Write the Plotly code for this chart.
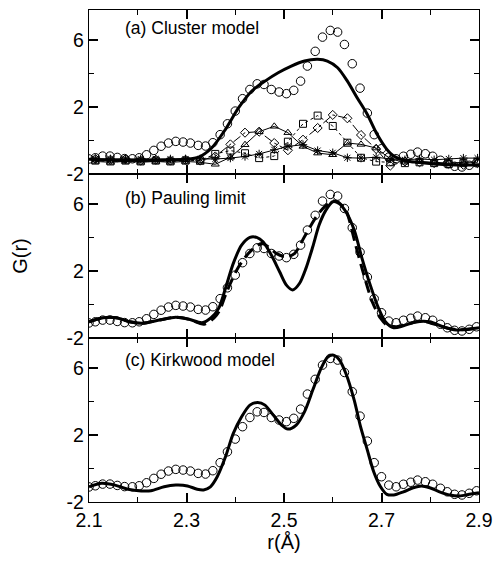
import plotly.graph_objects as go
from plotly.subplots import make_subplots

# Experimental G(r) (open circles), same in all panels
r_exp = [2.100, 2.113, 2.128, 2.143, 2.158, 2.173, 2.189, 2.203, 2.218, 2.233,
         2.248, 2.263, 2.278, 2.293, 2.308, 2.324, 2.339, 2.354, 2.369, 2.384,
         2.400, 2.415, 2.430, 2.445, 2.459, 2.474, 2.490, 2.505, 2.520, 2.534,
         2.548, 2.564, 2.579, 2.595, 2.610, 2.624, 2.640, 2.656, 2.671, 2.685,
         2.700, 2.715, 2.730, 2.745, 2.760, 2.774, 2.790, 2.805, 2.821, 2.835,
         2.850, 2.865, 2.880, 2.895]
g_exp = [-1.10, -1.03, -0.93, -0.93, -1.01, -1.08, -1.09, -1.03, -0.85, -0.59,
         -0.34, -0.15, -0.05, -0.09, -0.15, -0.29, -0.33, -0.13, 0.35, 1.00,
         1.76, 2.50, 3.05, 3.39, 3.35, 3.05, 2.90, 2.80, 3.00, 3.55,
         4.45, 5.33, 6.18, 6.58, 6.48, 5.74, 4.59, 3.13, 1.64, 0.35,
         -0.49, -0.99, -1.09, -0.94, -0.82, -0.69, -0.79, -0.94, -1.18, -1.39,
         -1.54, -1.58, -1.48, -1.33]

# (a) Cluster model total
r_a = [2.100, 2.177, 2.244, 2.298, 2.325, 2.352, 2.380, 2.407, 2.434, 2.461,
       2.488, 2.515, 2.542, 2.569, 2.589, 2.610, 2.630, 2.650, 2.671, 2.691,
       2.711, 2.725, 2.752, 2.786, 2.819, 2.853, 2.900]
g_a = [-1.12, -1.18, -1.18, -1.12, -0.99, -0.43, 0.67, 1.96, 2.96, 3.55,
       4.05, 4.45, 4.75, 4.85, 4.75, 4.35, 3.55, 2.56, 1.56, 0.37,
       -0.53, -0.93, -1.22, -1.33, -1.42, -1.46, -1.46]

# (a) partial contributions
r_p = [2.113, 2.144, 2.175, 2.206, 2.237, 2.267, 2.298, 2.328, 2.359, 2.390,
       2.420, 2.449, 2.480, 2.508, 2.539, 2.569, 2.600, 2.630, 2.658, 2.689,
       2.718, 2.748, 2.778, 2.808, 2.838, 2.868, 2.897]
g_diam = [-1.10, -1.15, -1.10, -1.20, -1.15, -1.20, -1.15, -1.20, -0.95, -0.23,
          0.47, 0.53, -0.15, -0.58, 0.05, 0.75, 1.53, 1.33, 0.33, -0.50,
          -1.50, -1.25, -1.30, -1.35, -1.40, -1.45, -1.35]
g_tri = [-1.25, -1.30, -1.25, -1.30, -1.25, -1.30, -1.25, -1.30, -1.42, -1.00,
         -0.25, 0.53, 0.85, 0.47, -0.35, -0.75, -0.85, -0.15, -0.23, -0.45,
         -1.10, -1.30, -1.25, -1.30, -1.35, -1.30, -1.30]
g_sq = [-1.20, -1.25, -1.20, -1.25, -1.20, -1.25, -1.20, -1.20, -0.80, -0.60,
        -0.76, -1.05, -0.93, -0.07, 1.00, 1.49, 0.87, -0.13, -1.03, -1.26,
        -1.30, -1.35, -1.30, -1.35, -1.40, -1.35, -1.30]
g_ast = [-1.10, -1.10, -1.10, -1.10, -1.10, -1.10, -1.10, -1.10, -1.10, -1.05,
         -0.95, -0.80, -0.55, -0.35, -0.25, -0.60, -0.73, -1.03, -1.05, -1.00,
         -1.10, -1.15, -1.10, -1.15, -1.10, -1.05, -1.05]

# (b) Pauling limit: solid and dashed
r_b = [2.100, 2.129, 2.156, 2.183, 2.210, 2.244, 2.278, 2.305, 2.332, 2.350,
       2.366, 2.380, 2.396, 2.413, 2.430, 2.444, 2.457, 2.474, 2.491, 2.505,
       2.518, 2.532, 2.545, 2.559, 2.572, 2.586, 2.600, 2.613, 2.627, 2.644,
       2.660, 2.677, 2.694, 2.708, 2.725, 2.745, 2.772, 2.799, 2.826, 2.853,
       2.880, 2.900]
g_b = [-1.03, -0.79, -0.79, -1.03, -1.12, -0.93, -0.76, -0.88, -1.09, -0.80,
       -0.23, 0.97, 2.46, 3.55, 4.01, 4.01, 3.75, 2.96, 1.96, 1.16,
       0.87, 1.27, 2.16, 3.45, 4.75, 5.64, 6.14, 6.04, 5.54, 4.45,
       2.76, 1.16, -0.23, -1.03, -1.39, -1.27, -1.03, -1.03, -1.33, -1.52,
       -1.46, -1.39]
r_bd = [2.100, 2.129, 2.156, 2.183, 2.210, 2.244, 2.278, 2.305, 2.336, 2.356,
        2.368, 2.380, 2.393, 2.407, 2.430, 2.454, 2.468, 2.484, 2.505, 2.522,
        2.542, 2.566, 2.583, 2.600, 2.610, 2.627, 2.633, 2.647, 2.664, 2.681,
        2.698, 2.711, 2.731, 2.758, 2.785, 2.812, 2.840, 2.870, 2.900]
g_bd = [-1.03, -0.79, -0.79, -1.03, -1.12, -0.93, -0.76, -0.88, -1.18, -0.82,
        -0.35, 0.57, 1.46, 2.26, 3.15, 3.65, 3.45, 3.06, 2.85, 3.06,
        4.05, 5.24, 5.84, 6.18, 6.14, 5.64, 5.15, 3.55, 1.76, 0.17,
        -0.82, -1.22, -1.33, -1.12, -1.00, -1.20, -1.45, -1.50, -1.39]

# (c) Kirkwood model
r_c = [2.100, 2.126, 2.153, 2.180, 2.207, 2.227, 2.254, 2.278, 2.302, 2.322,
       2.335, 2.349, 2.363, 2.380, 2.396, 2.413, 2.430, 2.446, 2.461, 2.478,
       2.495, 2.508, 2.525, 2.542, 2.559, 2.576, 2.589, 2.600, 2.613, 2.627,
       2.644, 2.657, 2.671, 2.684, 2.698, 2.711, 2.725, 2.745, 2.765, 2.782,
       2.799, 2.819, 2.840, 2.860, 2.880, 2.900]
g_c = [-1.09, -0.88, -0.99, -1.24, -1.34, -1.33, -1.09, -0.99, -1.04, -1.24,
       -1.28, -1.09, -0.49, 0.70, 2.10, 3.09, 3.79, 3.95, 3.79, 3.19,
       2.60, 2.36, 2.60, 3.39, 4.69, 5.98, 6.64, 6.78, 6.52, 5.68,
       4.09, 2.50, 1.10, -0.19, -1.09, -1.54, -1.58, -1.39, -1.15, -1.04,
       -1.15, -1.39, -1.58, -1.64, -1.54, -1.44]

panel_labels = ["(a) Cluster model", "(b) Pauling limit", "(c) Kirkwood model"]
x_ticks = [2.1, 2.3, 2.5, 2.7, 2.9]
y_ticks = [-2, 2, 6]
y_ticktext = ["-2", "2", "6"]

FONT = "Liberation Sans, Arial, Helvetica, sans-serif"

fig = make_subplots(rows=3, cols=1, shared_xaxes=True, vertical_spacing=0)

circ = dict(symbol="circle-open", size=8.5, color="black", line=dict(width=1))
for row in (1, 2, 3):
    fig.add_trace(go.Scatter(x=r_exp, y=g_exp, mode="markers", marker=circ,
                             showlegend=False), row=row, col=1)

# panel (a) partials
fig.add_trace(go.Scatter(x=r_p, y=g_ast, mode="lines+markers",
                         line=dict(color="black", width=1),
                         marker=dict(symbol="asterisk-open", size=7, color="black",
                                     line=dict(width=1)),
                         showlegend=False), row=1, col=1)
fig.add_trace(go.Scatter(x=r_p, y=g_sq, mode="lines+markers",
                         line=dict(color="black", width=1, dash="dot"),
                         marker=dict(symbol="square-open", size=7, color="black",
                                     line=dict(width=1)),
                         showlegend=False), row=1, col=1)
fig.add_trace(go.Scatter(x=r_p, y=g_tri, mode="lines+markers",
                         line=dict(color="black", width=1),
                         marker=dict(symbol="triangle-up-open", size=7, color="black",
                                     line=dict(width=1)),
                         showlegend=False), row=1, col=1)
fig.add_trace(go.Scatter(x=r_p, y=g_diam, mode="lines+markers",
                         line=dict(color="black", width=1, dash="dashdot"),
                         marker=dict(symbol="diamond-open", size=7, color="black",
                                     line=dict(width=1)),
                         showlegend=False), row=1, col=1)
fig.add_trace(go.Scatter(x=r_a, y=g_a, mode="lines",
                         line=dict(color="black", width=3, shape="spline", smoothing=0.8),
                         showlegend=False), row=1, col=1)

# panel (b)
fig.add_trace(go.Scatter(x=r_bd, y=g_bd, mode="lines",
                         line=dict(color="black", width=3, dash="12px,6px",
                                   shape="spline", smoothing=0.8),
                         showlegend=False), row=2, col=1)
fig.add_trace(go.Scatter(x=r_b, y=g_b, mode="lines",
                         line=dict(color="black", width=3, shape="spline", smoothing=0.8),
                         showlegend=False), row=2, col=1)

# panel (c)
fig.add_trace(go.Scatter(x=r_c, y=g_c, mode="lines",
                         line=dict(color="black", width=3, shape="spline", smoothing=0.8),
                         showlegend=False), row=3, col=1)

axis_common = dict(showline=True, linecolor="black", linewidth=1.3, mirror="ticks",
                   ticks="inside", ticklen=9, tickwidth=1.5, tickcolor="black",
                   showgrid=False, zeroline=False, ticklabeloverflow="allow",
                   tickfont=dict(family=FONT, size=19.5, color="black"))

for row in (1, 2, 3):
    fig.update_xaxes(range=[2.1, 2.9], tickvals=x_ticks,
                     ticktext=[f"{v:.1f}" for v in x_ticks],
                     showticklabels=(row == 3),
                     minor=dict(dtick=0.1, tick0=2.1, ticks="inside", ticklen=5,
                                tickwidth=1, tickcolor="black"),
                     row=row, col=1, **axis_common)
    fig.update_yaxes(range=[-2, 7.8], tickvals=y_ticks, ticktext=y_ticktext,
                     minor=dict(dtick=2, tick0=0, ticks="inside", ticklen=5,
                                tickwidth=1, tickcolor="black"),
                     row=row, col=1, **axis_common)

fig.update_xaxes(title=dict(text="r(Å)", font=dict(family=FONT, size=20, color="black"),
                            standoff=2), row=3, col=1)
fig.update_yaxes(title=dict(text="G(r)", font=dict(family=FONT, size=20, color="black"),
                            standoff=33), row=2, col=1)

label_y = [0.89, 0.855, 0.866]
for i, (txt, yy) in enumerate(zip(panel_labels, label_y)):
    suffix = "" if i == 0 else str(i + 1)
    fig.add_annotation(text=txt, xref=f"x{suffix} domain", yref=f"y{suffix} domain",
                       x=0.086, y=yy, xanchor="left", yanchor="middle",
                       showarrow=False, font=dict(family=FONT, size=17.5, color="black"))

fig.update_layout(width=502, height=561, margin=dict(l=89, r=19, t=9, b=59),
                  plot_bgcolor="white", paper_bgcolor="white",
                  font=dict(family=FONT, color="black"))

# remove the default 8px page margin so the figure fills the window exactly
fig.write_html("out.html",
               config={"displayModeBar": False},
               post_script="document.body.style.margin='0';"
                           "document.documentElement.style.overflow='hidden';")
